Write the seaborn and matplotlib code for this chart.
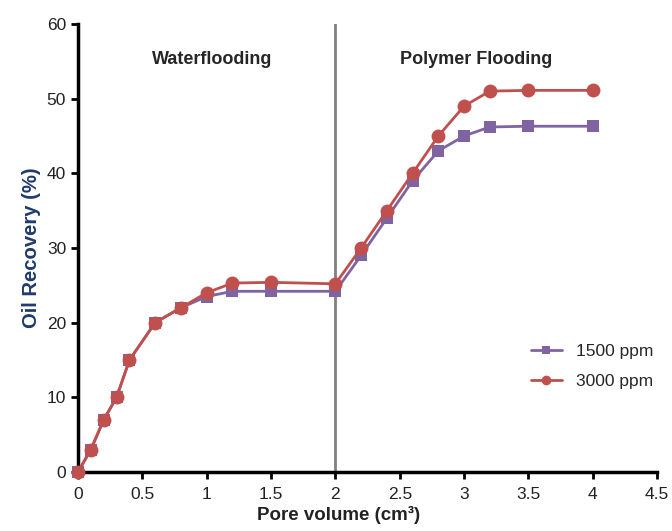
import matplotlib
matplotlib.use("Agg")
import matplotlib.pyplot as plt
import seaborn as sns
import pandas as pd

# pore volume injected (cm3)
pore_volume = [0, 0.1, 0.2, 0.3, 0.4, 0.6, 0.8, 1.0, 1.2, 1.5, 2.0,
               2.2, 2.4, 2.6, 2.8, 3.0, 3.2, 3.5, 4.0]
rec_1500 = [0, 3, 7, 10, 15, 20, 22, 23.5, 24.2, 24.2, 24.2,
            29, 34, 39, 43, 45, 46.2, 46.3, 46.3]
rec_3000 = [0, 3, 7, 10, 15, 20, 22, 24, 25.3, 25.4, 25.2,
            30, 35, 40, 45, 49, 51, 51.1, 51.1]
series_names = ["1500 ppm", "3000 ppm"]

df1 = pd.DataFrame({"pv": pore_volume, "rec": rec_1500})
df2 = pd.DataFrame({"pv": pore_volume, "rec": rec_3000})

sns.set_style("ticks")
plt.rcParams['font.family'] = ['Liberation Sans', 'DejaVu Sans']

fig = plt.figure(figsize=(6.72, 5.31), dpi=100)
ax = fig.add_axes([0.116, 0.111, 0.862, 0.844])

# phase boundary
ax.axvline(2, color="#808080", lw=2, zorder=1)

sns.lineplot(data=df1, x="pv", y="rec", color="#8064A2", marker="s",
             markersize=8, markeredgewidth=0, lw=2, ax=ax, label=series_names[0],
             clip_on=False, zorder=3)
sns.lineplot(data=df2, x="pv", y="rec", color="#C0504D", marker="o",
             markersize=10, markeredgewidth=0, lw=2, ax=ax, label=series_names[1],
             clip_on=False, zorder=4)

ax.set_xlim(0, 4.5)
ax.set_ylim(0, 60)
ax.set_xticks([0, 0.5, 1, 1.5, 2, 2.5, 3, 3.5, 4, 4.5])
ax.set_xticklabels(["0", "0.5", "1", "1.5", "2", "2.5", "3", "3.5", "4", "4.5"])
ax.set_yticks(range(0, 61, 10))
ax.tick_params(axis="both", labelsize=12.5, width=2, length=5, color="black",
               labelcolor="#222222")
ax.tick_params(axis="x", pad=6)
for s in ["left", "bottom"]:
    ax.spines[s].set_linewidth(2.5)
    ax.spines[s].set_color("black")
sns.despine(ax=ax)

ax.set_xlabel("Pore volume (cm³)", fontsize=13.5, fontweight="bold", color="#222222", labelpad=1)
ax.xaxis.set_label_coords(0.45, -0.075)
ax.set_ylabel("Oil Recovery (%)", fontsize=14.6, fontweight="bold", color="#1F3B6E", labelpad=4)

ax.text(1.04, 55.2, "Waterflooding", ha="center", va="center", fontsize=13, fontweight="bold")
ax.text(3.09, 55.2, "Polymer Flooding", ha="center", va="center", fontsize=13, fontweight="bold")

leg = ax.legend(loc="lower right", bbox_to_anchor=(1.02, 0.15), frameon=False,
                fontsize=12.5, handlelength=1.8, markerscale=0.7, labelspacing=0.85)

fig.savefig("out.png", dpi=100)
